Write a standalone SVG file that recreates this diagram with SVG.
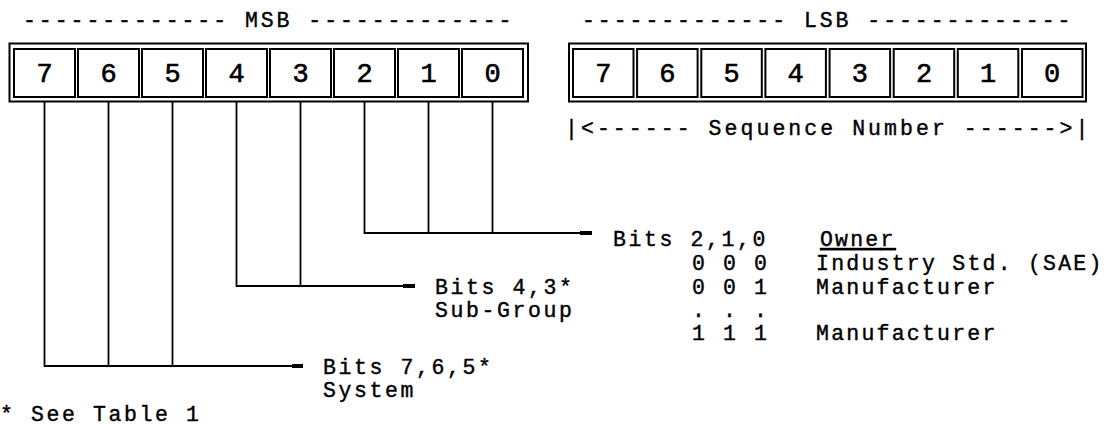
<svg xmlns="http://www.w3.org/2000/svg" width="1105" height="428" viewBox="0 0 1105 428">
<style>
  .bg{fill:#ffffff}
  .outer{fill:none;stroke:#000;stroke-width:2}
  .cell{fill:#fff;stroke:#000;stroke-width:2}
  .t{font-family:"Liberation Mono","DejaVu Sans Mono",monospace;font-size:21.5px;fill:#000;stroke:#000;stroke-width:0.4px;letter-spacing:2.6px}
  .d{font-family:"Liberation Mono","DejaVu Sans Mono",monospace;font-size:27px;fill:#000;stroke:#000;stroke-width:0.6px;text-anchor:middle}
  .ln{fill:none;stroke:#000;stroke-width:1.8}
  .tick{fill:#000}
</style>
<rect class="bg" x="0" y="0" width="1105" height="428"/>

<g id="msb-title"><text class="t" x="23" y="27" textLength="491" lengthAdjust="spacing">------------- MSB -------------</text></g>
<g id="lsb-title"><text class="t" x="582" y="27" textLength="491" lengthAdjust="spacing">------------- LSB -------------</text></g>

<g id="msb-register">
  <rect class="outer" x="9.5" y="43.5" width="518.5" height="58"/>
  <rect class="cell" x="14" y="49" width="61" height="48"/>
  <rect class="cell" x="78" y="49" width="61" height="48"/>
  <rect class="cell" x="142" y="49" width="61" height="48"/>
  <rect class="cell" x="206" y="49" width="61" height="48"/>
  <rect class="cell" x="270" y="49" width="61" height="48"/>
  <rect class="cell" x="334" y="49" width="61" height="48"/>
  <rect class="cell" x="398" y="49" width="61" height="48"/>
  <rect class="cell" x="462" y="49" width="61" height="48"/>
  <text class="d" x="44.5" y="82">7</text>
  <text class="d" x="108.5" y="82">6</text>
  <text class="d" x="172.5" y="82">5</text>
  <text class="d" x="236.5" y="82">4</text>
  <text class="d" x="300.5" y="82">3</text>
  <text class="d" x="364.5" y="82">2</text>
  <text class="d" x="428.5" y="82">1</text>
  <text class="d" x="492.5" y="82">0</text>
</g>

<g id="lsb-register">
  <rect class="outer" x="569" y="43.5" width="517" height="58"/>
  <rect class="cell" x="573" y="49" width="60.5" height="48"/>
  <rect class="cell" x="637.1" y="49" width="60.5" height="48"/>
  <rect class="cell" x="701.3" y="49" width="60.5" height="48"/>
  <rect class="cell" x="765.4" y="49" width="60.5" height="48"/>
  <rect class="cell" x="829.6" y="49" width="60.5" height="48"/>
  <rect class="cell" x="893.7" y="49" width="60.5" height="48"/>
  <rect class="cell" x="957.8" y="49" width="60.5" height="48"/>
  <rect class="cell" x="1022" y="49" width="60.5" height="48"/>
  <text class="d" x="603.3" y="82">7</text>
  <text class="d" x="667.4" y="82">6</text>
  <text class="d" x="731.5" y="82">5</text>
  <text class="d" x="795.7" y="82">4</text>
  <text class="d" x="859.8" y="82">3</text>
  <text class="d" x="924" y="82">2</text>
  <text class="d" x="988.1" y="82">1</text>
  <text class="d" x="1052.2" y="82">0</text>
</g>

<g id="sequence-label"><text class="t" x="565" y="135" textLength="526" lengthAdjust="spacing">|&lt;------ Sequence Number ------&gt;|</text></g>

<g id="connectors">
  <path class="ln" d="M492.5,102 V233 M428.5,102 V233 M364.5,102 V233 H592"/>
  <rect class="tick" x="580" y="231" width="12" height="4"/>
  <path class="ln" d="M300.5,102 V286 M236.5,102 V286 H415"/>
  <rect class="tick" x="403" y="284" width="12" height="4"/>
  <path class="ln" d="M172.5,102 V366 M108.5,102 V366 M44.5,102 V366 H303"/>
  <rect class="tick" x="292" y="364" width="11" height="4"/>
</g>

<g id="owner-table">
  <text class="t" x="613" y="246">Bits 2,1,0</text>
  <text class="t" x="820" y="246" text-decoration="underline" textLength="76" lengthAdjust="spacing">Owner</text>
  <text class="t" x="692" y="270">0 0 0</text>
  <text class="t" x="816" y="270" textLength="288" lengthAdjust="spacing">Industry Std. (SAE)</text>
  <text class="t" x="692" y="294">0 0 1</text>
  <text class="t" x="816" y="294" textLength="182" lengthAdjust="spacing">Manufacturer</text>
  <text class="t" x="692" y="317">. . .</text>
  <text class="t" x="692" y="340">1 1 1</text>
  <text class="t" x="816" y="340" textLength="182" lengthAdjust="spacing">Manufacturer</text>
</g>

<g id="subgroup-label">
  <text class="t" x="435" y="294">Bits 4,3*</text>
  <text class="t" x="435" y="317">Sub-Group</text>
</g>

<g id="system-label">
  <text class="t" x="323" y="374">Bits 7,6,5*</text>
  <text class="t" x="323" y="397">System</text>
</g>

<g id="footnote"><text class="t" x="0" y="421">* See Table 1</text></g>
</svg>
